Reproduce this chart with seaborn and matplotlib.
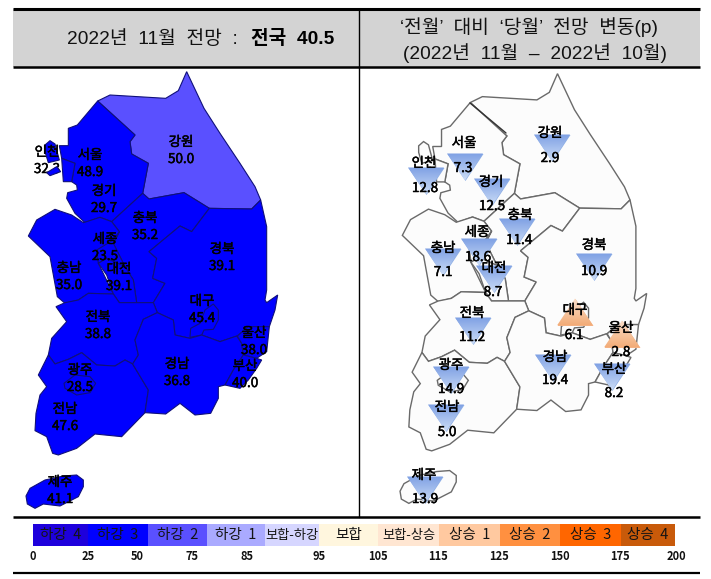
import numpy as np
import pandas as pd
import matplotlib
matplotlib.use("Agg")
import matplotlib.pyplot as plt
import matplotlib.patheffects as pe
from matplotlib.patches import Polygon
import seaborn as sns

sns.set_theme(style="white")
KR = ['Noto Sans CJK KR', 'DejaVu Sans']
HEAD = ['Liberation Sans', 'Noto Sans CJK KR']
plt.rcParams['font.family'] = KR

# Data
regions = ['강원', '서울', '인천', '경기', '충북', '세종', '충남', '대전', '경북',
           '전북', '대구', '울산', '경남', '부산', '광주', '전남', '제주']
outlook = [50.0, 48.9, 32.3, 29.7, 35.2, 23.5, 35.0, 39.1, 39.1,
           38.8, 45.4, 38.0, 36.8, 40.0, 28.5, 47.6, 41.1]
change = [2.9, 7.3, 12.8, 12.5, 11.4, 18.6, 7.1, 8.7, 10.9,
          11.2, 6.1, 2.8, 19.4, 8.2, 14.9, 5.0, 13.9]
rising = ['대구', '울산']

band_names = ['하강  4', '하강  3', '하강  2', '하강  1', '보합-하강', '보합', '보합-상승',
              '상승  1', '상승  2', '상승  3', '상승  4']
band_limits = [0, 25, 50, 75, 85, 95, 105, 115, 125, 150, 175, 200]
band_colors = ['#1E00DC', '#0000FF', '#5A50FF', '#AAAAFF', '#D6D6FF', '#FFF6DE', '#FFE6D2',
               '#FFC9A0', '#FF9040', '#FF6600', '#C85A0A']

# Layout in reference pixels
left_label_xy = [(181, 142), (90, 155), (47, 152), (104, 191), (145, 218), (105, 239), (69, 268),
                 (119, 269), (222, 249), (98, 317), (202, 301), (254, 333), (177, 364), (245, 366),
                 (80, 370), (65, 409), (60, 482)]
right_label_xy = [(550, 133), (464, 143), (424, 163), (491, 182), (520, 215), (477, 232), (443, 248),
                  (494, 268), (594, 245), (472, 313), (575, 310), (621, 328), (555, 357), (614, 369),
                  (451, 365), (447, 407), (424, 475)]
right_value_xy = [(550, 158), (463, 168), (425, 188), (492, 206), (519, 240), (478, 257), (443, 272),
                  (493, 292), (594, 271), (472, 337), (574, 335), (621, 352), (555, 380), (614, 393),
                  (451, 389), (447, 432), (425, 499)]
tri_xy = [(552, 148), (465, 167), (426, 181), (492, 192), (517, 232), (479, 252), (443, 262),
          (494, 279), (594, 267), (473, 331), (575, 312), (622, 334), (553, 368), (612, 377),
          (451, 380), (446, 418), (425, 490)]
legend_edges = [33, 88, 148, 207, 265, 319, 378, 439, 500, 560, 621, 675]
tick_x = [33, 88, 137, 192, 247, 319, 378, 438, 499, 560, 620, 676]

# Outlines traced at 3x zoom
z1 = lambda pts: [(x / 3, y / 3) for x, y in pts]
z2 = lambda pts: [(x / 3, 280 + y / 3) for x, y in pts]
outlines = {
    '강원': z1([(293, 303), (330, 285), (497, 295), (535, 272), (560, 215), (612, 325), (660, 400), (720, 490),
              (765, 560), (782, 600), (755, 627), (628, 625), (552, 578), (447, 597), (428, 580), (445, 490),
              (395, 462), (390, 425), (405, 405)]),
    '경기': z1([(293, 303), (405, 405), (390, 425), (395, 462), (445, 490), (428, 580), (335, 665), (300, 652),
              (255, 668), (225, 640), (200, 595), (203, 578), (232, 570), (230, 555), (215, 545), (225, 490),
              (185, 475), (178, 437), (205, 437), (205, 385), (232, 375)]),
    '서울': z1([(185, 475), (225, 490), (215, 545), (190, 545)]),
    '인천섬1': z1([(135, 435), (150, 422), (165, 432), (178, 480), (145, 488), (135, 455)]),
    '인천섬2': z1([(140, 518), (170, 500), (182, 515), (150, 527)]),
    '충북': z1([(335, 665), (428, 580), (447, 597), (552, 578), (628, 625), (575, 695), (540, 678), (447, 755),
              (470, 775), (458, 835), (495, 850), (460, 908), (410, 908), (400, 840), (375, 800), (340, 730),
              (358, 695)]),
    '충남': z1([(85, 708), (110, 660), (165, 628), (215, 645), (250, 668), (300, 652), (335, 665), (358, 695),
              (340, 730), (295, 790), (340, 882), (358, 908), (340, 882), (265, 880), (235, 900), (195, 910),
              (172, 890), (150, 770)]),
    '세종': z1([(358, 695), (340, 730), (375, 800), (320, 775), (295, 790), (290, 750), (340, 720)]),
    '대전': z1([(295, 790), (320, 775), (375, 800), (400, 840), (410, 908), (358, 908), (340, 882), (320, 825)]),
    '경북': z1([(628, 625), (755, 627), (782, 600), (800, 680), (800, 870), (795, 900), (800, 908), (833, 885),
              (825, 930), (808, 980), (745, 980), (712, 1008), (660, 1025), (605, 1005), (570, 1015), (525, 1005),
              (520, 960), (472, 938), (460, 908), (495, 850), (458, 835), (470, 775), (447, 755), (540, 678),
              (575, 695)]),
    '대구': z2([(570, 172), (572, 145), (600, 130), (615, 90), (640, 72), (655, 90), (655, 120), (640, 148),
              (612, 150), (605, 165)]),
    '전북': z2([(168, 80), (195, 68), (235, 60), (265, 40), (340, 42), (358, 68), (410, 68), (460, 68), (472, 98),
              (430, 118), (405, 180), (415, 225), (398, 252), (375, 240), (345, 258), (290, 255), (245, 218),
              (205, 238), (165, 252), (145, 225), (155, 175), (200, 125)]),
    '전남': z2([(145, 225), (165, 252), (205, 238), (245, 218), (290, 255), (345, 258), (375, 240), (398, 252),
              (445, 330), (435, 398), (365, 470), (285, 462), (230, 505), (175, 525), (158, 520), (140, 470),
              (105, 452), (108, 400), (120, 345), (140, 320), (115, 285)]),
    '광주': z2([(192, 310), (225, 285), (270, 290), (287, 310), (270, 338), (230, 345), (195, 325)]),
    '경남': z2([(398, 252), (415, 225), (405, 180), (430, 118), (472, 98), (520, 120), (525, 165), (570, 175),
              (605, 165), (660, 185), (710, 168), (725, 190), (730, 225), (700, 270), (675, 315), (655, 320),
              (655, 355), (632, 400), (585, 405), (540, 370), (497, 402), (435, 398), (445, 330)]),
    '울산': z2([(712, 168), (745, 140), (808, 140), (800, 215), (770, 235), (730, 225), (725, 190)]),
    '부산': z2([(730, 225), (770, 235), (785, 240), (770, 265), (745, 300), (720, 325), (675, 315), (700, 270)]),
    '제주': z2([(78, 648), (90, 625), (135, 600), (190, 588), (230, 585), (250, 600), (250, 620), (235, 650),
              (180, 678), (130, 672), (105, 685), (82, 672)]),
}


def band_color(v):
    i = min(np.searchsorted(band_limits, v, side='right') - 1, len(band_colors) - 1)
    return band_colors[i]


def to_right(pts):
    # right map is the same outline slightly shrunk
    return [(402 + (x - 28) * 0.98, 74 + (y - 72) * 0.984) for x, y in pts]


fig = plt.figure(figsize=(7.11, 5.79), dpi=100)
ax = fig.add_axes([0, 0, 1, 1], zorder=2)
ax.set_xlim(0, 711)
ax.set_ylim(579, 0)
ax.axis('off')

# a thin stroke brings the regular weight up to the reference's heavier look
heavy = [pe.withStroke(linewidth=0.35, foreground='black')]

# Header and frame
ax.fill_between([13, 700], 9, 67, color='#D3D3D3', lw=0, zorder=0)
for y, lw in [(9, 2.2), (67, 1.8), (517, 1.8), (573, 1.6)]:
    ax.plot([13, 700], [y, y], color='black', lw=lw, zorder=5, solid_capstyle='butt')
ax.plot([359, 359], [9, 517], color='black', lw=1.0, zorder=5)

ax.text(67, 39, '2022년  11월  전망  :', family=HEAD, fontsize=13.8, va='center', ha='left', color='#111111')
ax.text(251, 39, '전국  40.5', family=HEAD, fontsize=13.8, weight='bold', va='center', ha='left', color='black')
ax.text(529, 27, '‘전월’  대비  ‘당월’  전망  변동(p)', family=HEAD, fontsize=13.8, va='center', ha='center', color='#111111')
ax.text(535, 53, '(2022년  11월  –  2022년  10월)', family=HEAD, fontsize=13.8, va='center', ha='center', color='#111111')

# Left map, filled by outlook band
values = dict(zip(regions, outlook))
for name, pts in outlines.items():
    v = values.get(name, values['인천'])
    face = band_color(max(v, 25))
    ax.add_patch(Polygon(pts, closed=True, facecolor=face, edgecolor='#10107A', lw=0.8,
                         zorder=4 if name == '인천섬2' else 2))

# Right map, blank outlines
for name, pts in outlines.items():
    ax.add_patch(Polygon(to_right(pts), closed=True, facecolor='#FCFCFC', edgecolor='#6A6A6A', lw=1.0, zorder=2))
ax.plot([470, 506], [103, 133], color='#333333', lw=1.0, zorder=2.5)

# Triangles
tri = pd.DataFrame({'region': regions, 'x': [p[0] for p in tri_xy], 'y': [p[1] for p in tri_xy]})
tri['dir'] = ['up' if r in rising else 'down' for r in tri['region']]
down_marker = [(-1, 0.75), (1, 0.75), (0, -0.75)]
up_marker = [(-1, -0.75), (1, -0.75), (0, 0.75)]
sns.scatterplot(data=tri[tri['dir'] == 'down'], x='x', y='y', marker=down_marker, s=672,
                color='#8FB0E6', linewidth=0, ax=ax, zorder=3, legend=False)
sns.scatterplot(data=tri[tri['dir'] == 'up'], x='x', y='y', marker=up_marker, s=672,
                color='#F4B183', linewidth=0, ax=ax, zorder=3, legend=False)
down_cmap = sns.blend_palette(['#7EA0E4', '#CBDCF6'], as_cmap=True)
up_cmap = sns.blend_palette(['#FBE0CC', '#F2AC78'], as_cmap=True)
ramp = np.linspace(0, 1, 64).reshape(-1, 1)
for _, row in tri.iterrows():
    x, y = row['x'], row['y']
    if row['dir'] == 'down':
        verts, cmap = [(x - 18, y - 13.5), (x + 18, y - 13.5), (x, y + 13.5)], down_cmap
    else:
        verts, cmap = [(x - 18, y + 13.5), (x + 18, y + 13.5), (x, y - 13.5)], up_cmap
    im = ax.imshow(ramp, cmap=cmap, extent=(x - 18, x + 18, y + 13.5, y - 13.5), aspect='auto', zorder=3.1)
    clip = Polygon(verts, closed=True, transform=ax.transData, facecolor='none', edgecolor='none')
    ax.add_patch(clip)
    im.set_clip_path(clip)
ax.set_xlim(0, 711)
ax.set_ylim(579, 0)

# Region labels
for name, v, (lx, ly), (rx, ry), (vx, vy) in zip(regions, change, left_label_xy, right_label_xy, right_value_xy):
    ax.text(lx, ly, name, fontsize=9.7, ha='center', va='center', color='black', zorder=3.5, path_effects=heavy)
    ax.text(lx, ly + 17, f'{values[name]:.1f}', fontsize=9.7, ha='center', va='center', color='black', zorder=3.5,
            path_effects=heavy)
    ax.text(rx, ry, name, fontsize=9.7, ha='center', va='center', color='black', zorder=6, path_effects=heavy)
    ax.text(vx, vy, f'{v:.1f}', fontsize=9.7, ha='center', va='center', color='black', zorder=6, path_effects=heavy)

# Legend strip, bars drawn longest first so each one shows only its own band
leg = fig.add_axes([33 / 711, 1 - 546 / 579, (675 - 33) / 711, 22 / 579], zorder=1)
for edge, color in zip(legend_edges[:0:-1], band_colors[::-1]):
    sns.barplot(x=[edge], y=['band'], color=color, saturation=1, width=1, linewidth=0, ax=leg)
leg.set_xlim(33, 675)
leg.set_ylim(0.5, -0.5)
leg.axis('off')

for i, name in enumerate(band_names):
    cx = (legend_edges[i] + legend_edges[i + 1]) / 2
    size = 9.5 if '-' in name else 10.5
    ax.text(cx, 535.5, name, fontsize=size, ha='center', va='center', color='#141414', zorder=6)
for lim, x in zip(band_limits, tick_x):
    ax.text(x, 557, str(lim), fontsize=8, weight='bold', ha='center', va='center', color='#111111')

fig.savefig('out.png', dpi=100)
